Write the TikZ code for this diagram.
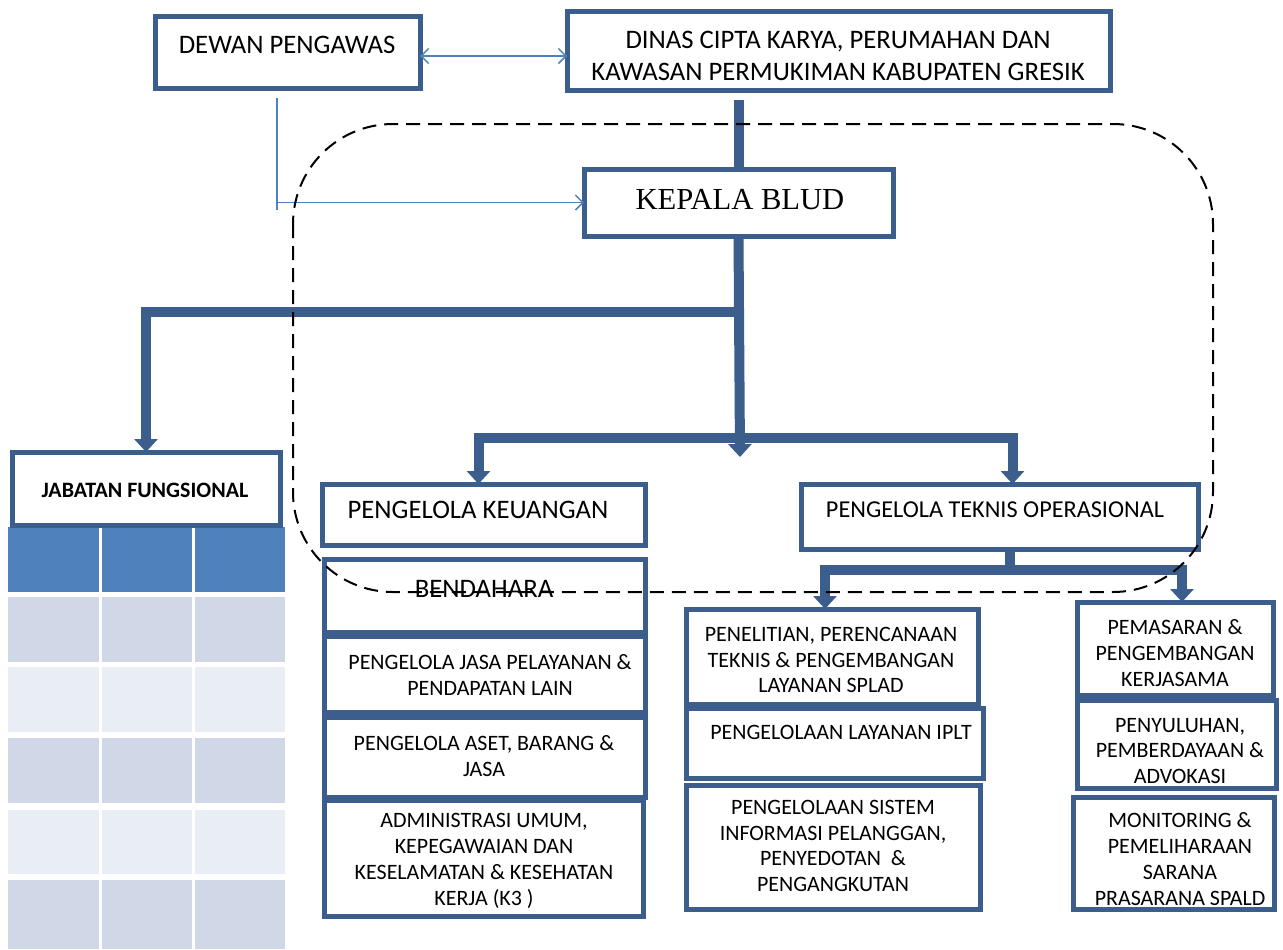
\documentclass[tikz,border=0pt]{standalone}
\usepackage{fontspec}
\setmainfont{Carlito}
\newfontfamily\bludfont{Liberation Serif}
\usetikzlibrary{arrows.meta}
\definecolor{boxblue}{RGB}{59,94,140}
\definecolor{linkblue}{RGB}{79,129,189}
\definecolor{headblue}{RGB}{79,129,189}
\definecolor{rowdark}{RGB}{208,216,232}
\definecolor{rowlight}{RGB}{233,237,244}

\begin{document}
\begin{tikzpicture}[x=0.2mm,y=-0.2mm,
    box/.style={draw=boxblue,line width=1mm,fill=white,anchor=north west,inner sep=0pt,outer sep=0pt},
    trunk/.style={draw=boxblue,line width=2mm},
    tip/.style={-{Triangle[width=4.6mm,length=2.6mm]}},
    link/.style={draw=linkblue,line width=0.3mm},
    barb/.style={-{Straight Barb[length=1.5mm,width=3mm]}},
    big/.style={font=\fontsize{15.2}{18.2}\selectfont,align=center},
    small/.style={font=\fontsize{12.5}{14.7}\selectfont,align=center}]
    \useasboundingbox (0,0) rectangle (1283,949);
    % table under jabatan fungsional
    \foreach \xa/\xb in {8/99,102/192,195/285} {
        \fill[headblue] (\xa,527) rectangle (\xb,592);
        \foreach \ya/\yb/\c in {597/662/rowdark,667/732/rowlight,738/803/rowdark,810/874/rowlight,880/949/rowdark}
            \fill[\c] (\xa,\ya) rectangle (\xb,\yb);
    }
    % boxes
    \node (dewan) [box,minimum width=53mm,minimum height=14.4mm] at (155,16) {};
    \node (dinas) [box,minimum width=108.6mm,minimum height=15.8mm] at (567,11) {};
    \node (kepala) [box,minimum width=61.8mm,minimum height=13.4mm] at (584,169) {};
    \node (jab) [box,minimum width=53.6mm,minimum height=14.6mm] at (12,452) {};
    \node (keu) [box,minimum width=64.6mm,minimum height=12.2mm] at (322,484) {};
    \node (bend) [box,minimum width=64.2mm,minimum height=14.6mm] at (324,559) {};
    \node (jasa) [box,minimum width=64.2mm,minimum height=15.2mm] at (324,636) {};
    \node (aset) [box,minimum width=64.2mm,minimum height=16mm] at (324,717) {};
    \node (admin) [box,minimum width=63.8mm,minimum height=23.2mm] at (324,800) {};
    \node (teknis) [box,minimum width=79.4mm,minimum height=13mm] at (801,484) {};
    \node (penel) [box,minimum width=58.4mm,minimum height=19mm] at (686,609) {};
    \node (iplt) [box,minimum width=59.4mm,minimum height=14mm] at (686,708) {};
    \node (sistem) [box,minimum width=58.8mm,minimum height=24.8mm] at (686,785) {};
    \node (pemas) [box,minimum width=39.2mm,minimum height=18.6mm] at (1077,602) {};
    \node (penyul) [box,minimum width=39.8mm,minimum height=17.6mm] at (1077,700) {};
    \node (monit) [box,minimum width=40.2mm,minimum height=22.4mm] at (1073,797) {};
    % texts
    \node (dewan-t) [big] at (287,45) {DEWAN PENGAWAS};
    \node (dinas-t) [big] at (838,56) {DINAS CIPTA KARYA, PERUMAHAN DAN\\KAWASAN PERMUKIMAN KABUPATEN GRESIK};
    \node (kepala-t) [font=\bludfont\fontsize{17.4}{20}\selectfont] at (740,200) {KEPALA BLUD};
    \node (jab-t) [font=\bfseries\fontsize{12.5}{15}\selectfont] at (145,490) {JABATAN FUNGSIONAL};
    \node (keu-t) [big] at (478,510) {PENGELOLA KEUANGAN};
    \node (bend-t) [big] at (484,589) {BENDAHARA};
    \node (jasa-t) [small] at (490,675) {PENGELOLA JASA PELAYANAN \&\\PENDAPATAN LAIN};
    \node (aset-t) [small] at (484,756) {PENGELOLA ASET, BARANG \&\\JASA};
    \node (admin-t) [small] at (484,861) {ADMINISTRASI UMUM,\\KEPEGAWAIAN DAN\\KESELAMATAN \& KESEHATAN\\KERJA (K3 )};
    \node (teknis-t) [big,font=\fontsize{13.8}{17}\selectfont] at (995,510) {PENGELOLA TEKNIS OPERASIONAL};
    \node (penel-t) [small] at (831,660) {PENELITIAN, PERENCANAAN\\TEKNIS \& PENGEMBANGAN\\LAYANAN SPLAD};
    \node (iplt-t) [small] at (841,732) {PENGELOLAAN LAYANAN IPLT};
    \node (sistem-t) [small] at (833,846) {PENGELOLAAN SISTEM\\INFORMASI PELANGGAN,\\PENYEDOTAN~~\&\\PENGANGKUTAN};
    \node (pemas-t) [small] at (1175,653) {PEMASARAN \&\\PENGEMBANGAN\\KERJASAMA};
    \node (penyul-t) [small] at (1180,751) {PENYULUHAN,\\PEMBERDAYAAN \&\\ADVOKASI};
    \node (monit-t) [small] at (1180,859) {MONITORING \&\\PEMELIHARAAN\\SARANA\\PRASARANA SPALD};
    % connectors
    \coordinate (fork) at (740,312);
    \coordinate (bar) at (740,438);
    \coordinate (hub) at (740,457);
    \coordinate (knot) at (1010,570);
    \coordinate (tap) at (277,98);
    \draw[trunk] ([yshift=-2mm]dinas.south -| kepala.north) -- (kepala.north);
    \draw[trunk,tip] (kepala.south) -- (hub);
    \draw[trunk,tip] ([xshift=-1mm]fork) -| (jab.north);
    \draw[trunk,tip] (bar) -| ([xshift=-1mm]keu.north);
    \draw[trunk,tip] (bar) -| ([xshift=2.6mm]teknis.north);
    \draw[trunk] (knot |- teknis.south) -- (knot);
    \draw[trunk,tip] (knot) -| ([xshift=-1.4mm]penel.north);
    \draw[trunk,tip] (knot) -| ([xshift=1.4mm]pemas.north);
    \draw[link,barb] ([yshift=-0.8mm]dewan.east) -- ([yshift=-0.8mm]dewan.east -| dinas.west);
    \draw[link,barb] ([yshift=-0.8mm]dewan.east -| dinas.west) -- ([yshift=-0.8mm]dewan.east);
    \draw[link] (tap) -- ++(0,112);
    \draw[link,barb] (tap |- kepala.west) -- (kepala.west);
    % BLUD boundary
    \draw[line width=0.4mm,dash pattern=on 2.8mm off 1.6mm,rounded corners=20mm] (293,124) rectangle (1213,592);
\end{tikzpicture}
\end{document}
